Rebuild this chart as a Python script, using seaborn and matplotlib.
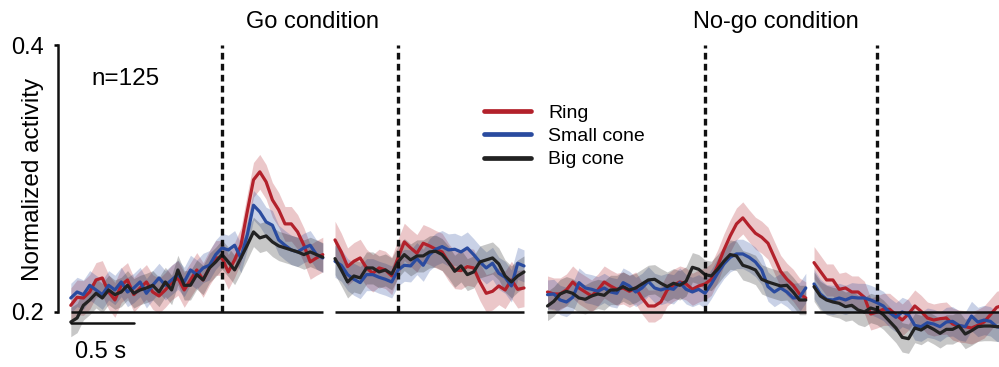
import numpy as np
import pandas as pd
import matplotlib
matplotlib.use("Agg")
import matplotlib.pyplot as plt
import seaborn as sns

# ---------------- data ----------------
series_names = ["Ring", "Small cone", "Big cone"]
colors = {"Ring": "#b3212b", "Small cone": "#2a4b9f", "Big cone": "#222222"}

# Go condition, aligned to cue (panel 1) and to response (panel 2)
t_go_cue = np.round(np.arange(-1.2, 0.8001, 0.05), 3)
go_cue_ring = [0.205, 0.211, 0.2105, 0.215, 0.224, 0.2255, 0.215, 0.209, 0.220, 0.224, 0.213,
               0.218, 0.2225, 0.215, 0.212, 0.2165, 0.222, 0.2255, 0.2165, 0.224, 0.2315, 0.224,
               0.233, 0.2405, 0.2405, 0.230, 0.239, 0.250, 0.275, 0.299, 0.305, 0.2975, 0.284,
               0.2765, 0.266, 0.266, 0.260, 0.250, 0.2375, 0.2405, 0.243]
go_cue_small = [0.2105, 0.215, 0.213, 0.220, 0.2165, 0.213, 0.220, 0.2165, 0.2225, 0.215, 0.218,
                0.2225, 0.214, 0.220, 0.2255, 0.220, 0.224, 0.228, 0.2225, 0.2315, 0.228, 0.233,
                0.235, 0.243, 0.248, 0.2465, 0.250, 0.2405, 0.2575, 0.280, 0.275, 0.2675, 0.265,
                0.254, 0.250, 0.2465, 0.245, 0.248, 0.250, 0.243, 0.2405]
go_cue_big = [0.1925, 0.1955, 0.205, 0.209, 0.214, 0.2105, 0.2165, 0.213, 0.215, 0.220, 0.214,
              0.2165, 0.218, 0.220, 0.215, 0.2225, 0.2165, 0.2315, 0.220, 0.220, 0.228, 0.224,
              0.233, 0.2375, 0.243, 0.2375, 0.2315, 0.2405, 0.250, 0.260, 0.2555, 0.257, 0.2525,
              0.2495, 0.248, 0.2465, 0.245, 0.243, 0.245, 0.243, 0.241]

t_go_resp = np.round(np.arange(-0.5, 1.0001, 0.05), 3)
go_resp_ring = [0.254, 0.245, 0.234, 0.238, 0.2405, 0.233, 0.229, 0.233, 0.2315, 0.227, 0.2405,
                0.2525, 0.248, 0.244, 0.2515, 0.2495, 0.247, 0.245, 0.2375, 0.2315, 0.231, 0.234,
                0.233, 0.2225, 0.214, 0.2155, 0.2195, 0.2165, 0.224, 0.217, 0.218]
go_resp_small = [0.238, 0.235, 0.228, 0.2245, 0.222, 0.228, 0.228, 0.226, 0.2245, 0.2225, 0.2315,
                 0.235, 0.2345, 0.240, 0.235, 0.243, 0.247, 0.249, 0.2465, 0.247, 0.245, 0.248,
                 0.243, 0.2375, 0.233, 0.2365, 0.229, 0.226, 0.2195, 0.2365, 0.2345]
go_resp_big = [0.240, 0.2315, 0.2225, 0.227, 0.2255, 0.233, 0.233, 0.230, 0.2315, 0.2285, 0.2375,
               0.243, 0.239, 0.242, 0.242, 0.245, 0.2455, 0.243, 0.2375, 0.2305, 0.2345, 0.228,
               0.230, 0.2375, 0.239, 0.2405, 0.236, 0.227, 0.2225, 0.227, 0.230]

# No-go condition
t_nogo_cue = np.round(np.arange(-1.25, 0.8001, 0.05), 3)
nogo_cue_ring = [0.215, 0.2135, 0.2135, 0.2165, 0.2225, 0.218, 0.215, 0.212, 0.2165, 0.2225, 0.2195,
                 0.217, 0.218, 0.2155, 0.218, 0.2105, 0.2045, 0.2045, 0.2075, 0.2165, 0.220, 0.2225,
                 0.221, 0.217, 0.2195, 0.221, 0.2245, 0.2345, 0.2465, 0.257, 0.266, 0.2705, 0.2645,
                 0.259, 0.256, 0.2515, 0.241, 0.2305, 0.2245, 0.220, 0.2135, 0.2105]
nogo_cue_small = [0.213, 0.2135, 0.209, 0.2075, 0.211, 0.222, 0.218, 0.217, 0.2155, 0.218, 0.215,
                  0.214, 0.222, 0.2195, 0.215, 0.218, 0.223, 0.218, 0.2165, 0.218, 0.217, 0.222,
                  0.217, 0.215, 0.217, 0.214, 0.221, 0.229, 0.236, 0.241, 0.2435, 0.2435, 0.241,
                  0.2375, 0.2315, 0.219, 0.215, 0.218, 0.215, 0.2105, 0.211, 0.218]
nogo_cue_big = [0.2045, 0.208, 0.2135, 0.2155, 0.214, 0.2105, 0.2095, 0.212, 0.2135, 0.2125, 0.2165,
                0.2165, 0.219, 0.2165, 0.218, 0.221, 0.224, 0.2245, 0.2215, 0.219, 0.2215, 0.220,
                0.223, 0.2335, 0.232, 0.228, 0.227, 0.232, 0.238, 0.243, 0.242, 0.235, 0.2335,
                0.2315, 0.2245, 0.2225, 0.221, 0.2195, 0.220, 0.215, 0.209, 0.209]

t_nogo_resp = np.round(np.arange(-0.5, 1.0001, 0.05), 3)
nogo_resp_ring = [0.237, 0.2305, 0.224, 0.224, 0.217, 0.218, 0.215, 0.215, 0.211, 0.1985, 0.200,
                  0.202, 0.202, 0.198, 0.194, 0.1985, 0.2045, 0.2005, 0.1955, 0.194, 0.195, 0.1955,
                  0.191, 0.1895, 0.189, 0.188, 0.190, 0.1925, 0.198, 0.2035, 0.205]
nogo_resp_small = [0.221, 0.2135, 0.2095, 0.209, 0.2105, 0.209, 0.211, 0.2105, 0.2105, 0.209, 0.207,
                   0.2045, 0.1995, 0.196, 0.200, 0.198, 0.190, 0.189, 0.192, 0.191, 0.189, 0.1925,
                   0.193, 0.190, 0.189, 0.197, 0.1925, 0.194, 0.193, 0.189, 0.188]
nogo_resp_big = [0.219, 0.212, 0.209, 0.2075, 0.2065, 0.204, 0.205, 0.2015, 0.200, 0.203, 0.2015,
                 0.198, 0.193, 0.188, 0.181, 0.180, 0.188, 0.1865, 0.1895, 0.187, 0.184, 0.187,
                 0.187, 0.1895, 0.1835, 0.186, 0.189, 0.1895, 0.1895, 0.189, 0.189]

# SEM half-widths per panel (Ring, Small cone, Big cone)
sem_go_cue = [0.013, 0.011, 0.011]
sem_go_resp = [0.014, 0.012, 0.012]
sem_nogo_cue = [0.012, 0.011, 0.011]
sem_nogo_resp = [0.012, 0.011, 0.011]

panels = [
    (t_go_cue, [go_cue_ring, go_cue_small, go_cue_big], sem_go_cue),
    (t_go_resp, [go_resp_ring, go_resp_small, go_resp_big], sem_go_resp),
    (t_nogo_cue, [nogo_cue_ring, nogo_cue_small, nogo_cue_big], sem_nogo_cue),
    (t_nogo_resp, [nogo_resp_ring, nogo_resp_small, nogo_resp_big], sem_nogo_resp),
]

# ---------------- layout ----------------
W, H = 999, 367
sns.set_style("white")
plt.rcParams["font.family"] = ["Liberation Sans", "DejaVu Sans"]
plt.rcParams["text.color"] = "black"
plt.rcParams["ytick.color"] = "black"
plt.rcParams["ytick.labelcolor"] = "black"

fig = plt.figure(figsize=(W / 100, H / 100), dpi=100)

PX_PER_S = 126.0
Y_TOP_PX, Y_BOT_PX = 40, 360
Y_PER_UNIT = 1335.0
ylim = (0.2 - (360 - 312) / Y_PER_UNIT, 0.2 + (312 - 40) / Y_PER_UNIT)

# (left px, right px, pixel position of event t=0)
panel_px = [(58, 325, 222), (329, 530, 398), (544, 809, 705), (811, 1006, 877)]

axes = []
for (l, r, z) in panel_px:
    ax = fig.add_axes([l / W, (H - Y_BOT_PX) / H, (r - l) / W, (Y_BOT_PX - Y_TOP_PX) / H])
    ax.set_xlim((l - z) / PX_PER_S, (r - z) / PX_PER_S)
    ax.set_ylim(*ylim)
    ax.set_facecolor("none")
    axes.append(ax)

lw_line = 2.3
for ax, (t, ys, sems) in zip(axes, panels):
    for name, y, s in zip(series_names, ys, sems):
        y = np.asarray(y)
        ax.fill_between(t, y - s, y + s, color=colors[name], alpha=0.25, lw=0)
    for name, y in zip(series_names, ys):
        df = pd.DataFrame({"t": t, "v": y})
        sns.lineplot(data=df, x="t", y="v", ax=ax, color=colors[name], lw=lw_line,
                     errorbar=None, label=name, legend=False)
    ax.hlines(0.2, t[0], t[-1], color="#111111", lw=1.8, zorder=5)
    ax.vlines(0, 0.2, 0.4, color="#111111", lw=2.4, linestyles=(0, (2.0, 1.3)), zorder=6)
    ax.set_xlabel("")
    ax.set_ylabel("")
    ax.set_xticks([])
    for sp in ax.spines.values():
        sp.set_visible(False)
    ax.set_yticks([])

# y axis on the first panel
ax0 = axes[0]
ax0.spines["left"].set_visible(True)
ax0.spines["left"].set_bounds(0.2, 0.4)
ax0.spines["left"].set_linewidth(1.8)
ax0.spines["left"].set_color("#111111")
ax0.set_yticks([0.2, 0.4])
ax0.set_yticklabels(["0.2", "0.4"])
ax0.tick_params(axis="y", direction="out", length=3, width=1.8, pad=7, labelsize=17,
                colors="black", left=True)
fig.text(33 / W, 1 - 179 / H, "Normalized activity", rotation=90, ha="center", va="center",
         fontsize=17.5)

# scale bar 0.5 s
sb_y = 0.2 - 11 / Y_PER_UNIT
ax0.plot([t_go_cue[0], t_go_cue[0] + 0.5], [sb_y, sb_y], color="#111111", lw=1.8, clip_on=False)
fig.text(101 / W, 1 - 352 / H, "0.5 s", ha="center", va="center", fontsize=17)

# titles / annotations
fig.text(312 / W, 1 - 22 / H, "Go condition", ha="center", va="center", fontsize=17)
fig.text(776 / W, 1 - 22 / H, "No-go condition", ha="center", va="center", fontsize=17)
fig.text(91 / W, 1 - 79 / H, "n=125", ha="left", va="center", fontsize=17.5)

handles = ax0.get_lines()[:3]
leg = fig.legend(handles=handles, labels=series_names, loc="upper left",
                 bbox_to_anchor=(484 / W, 1 - 104 / H), frameon=False, fontsize=14,
                 handlelength=2.4, handletextpad=0.9, labelspacing=0.3,
                 borderpad=0, borderaxespad=0)
for txt in leg.get_texts():
    txt.set_color("black")
for lh in leg.get_lines():
    lh.set_linewidth(3.4)
    lh.set_solid_capstyle("round")

fig.savefig("out.png", dpi=100)
